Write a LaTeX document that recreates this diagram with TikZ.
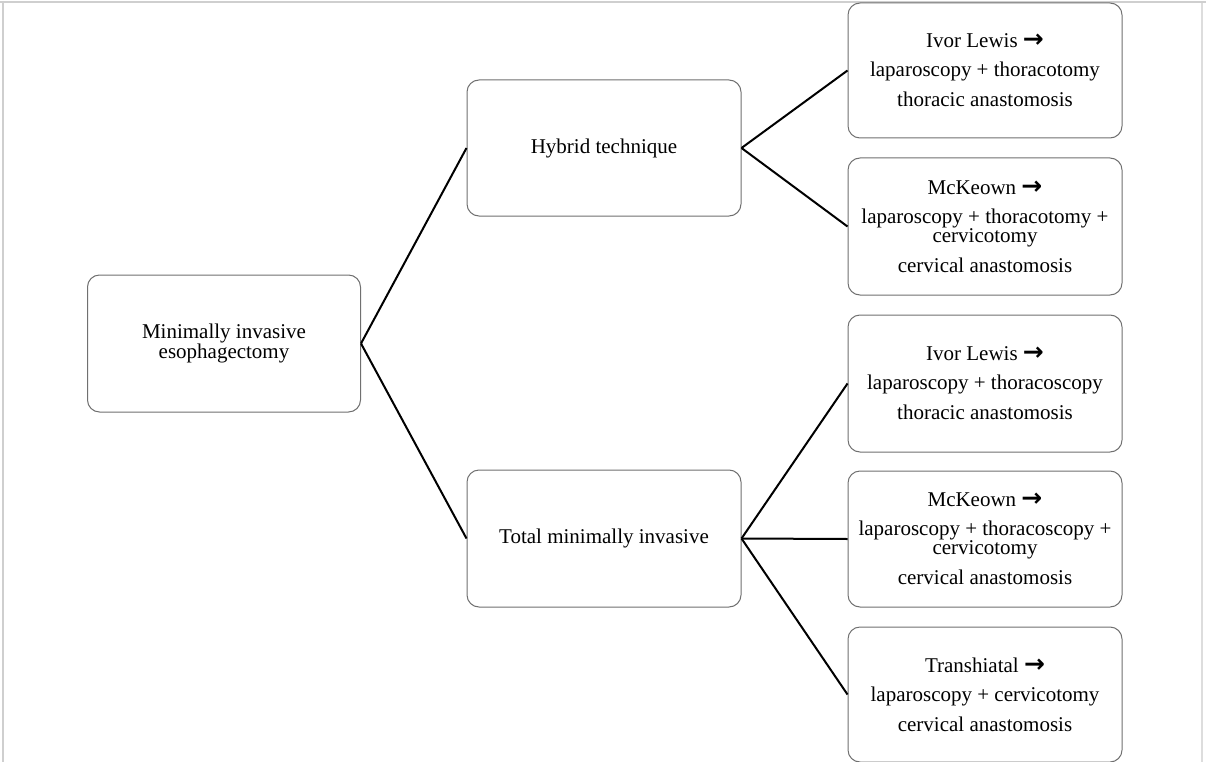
\documentclass[tikz,border=0pt]{standalone}
\usepackage{fontspec}
\setmainfont{Liberation Serif}
\newfontfamily\arrowfont{DejaVu Sans}
\definecolor{framegray}{HTML}{CFCFCF}
\definecolor{framegraylight}{HTML}{DDDDDD}
\definecolor{boxgray}{HTML}{707070}
\newcommand{\arr}{{\arrowfont\bfseries\fontsize{25}{19}\selectfont →}}
\begin{document}
\begin{tikzpicture}[x=1pt,y=-1pt,
  box/.style={draw=boxgray, line width=1pt, rounded corners=12pt, fill=white,
    minimum width=274pt, minimum height=137pt, inner sep=0pt, align=center,
    font=\fontsize{21}{19}\selectfont},
  conn/.style={draw=black, line width=2pt}]
\useasboundingbox (0,0) rectangle (1206,762);
% frame
\draw[framegray, line width=2pt] (0,2) -- (1206,2);
\draw[framegray, line width=2pt] (3,1) -- (3,762);
\draw[framegraylight, line width=1.5pt] (1202,3) -- (1202,762);
% nodes
\node[box, minimum width=273pt] (root) at (224,343.5) {Minimally invasive\\esophagectomy};
\node[box, minimum height=136pt] (hyb) at (604,148) {Hybrid technique};
\node[box] (tot) at (604,538.5) {Total minimally invasive};
\node[box, minimum height=135pt] (b1) at (985,70.5) {Ivor Lewis \arr\\[10pt]laparoscopy + thoracotomy\\[10pt]thoracic anastomosis};
\node[box] (b2) at (985,226.5) {McKeown \arr\\[10pt]laparoscopy + thoracotomy +\\cervicotomy\\[10pt]cervical anastomosis};
\node[box] (b3) at (985,383.5) {Ivor Lewis \arr\\[10pt]laparoscopy + thoracoscopy\\[10pt]thoracic anastomosis};
\node[box, minimum height=136pt] (b4) at (985,539) {McKeown \arr\\[10pt]laparoscopy + thoracoscopy +\\cervicotomy\\[10pt]cervical anastomosis};
\node[box, minimum height=135pt] (b5) at (985,694.5) {Transhiatal \arr\\[10pt]laparoscopy + cervicotomy\\[10pt]cervical anastomosis};
% connectors
\draw[conn] (root.east) -- (hyb.west);
\draw[conn] (root.east) -- (tot.west);
\draw[conn] (hyb.east) -- (b1.west);
\draw[conn] (hyb.east) -- (b2.west);
\draw[conn] (tot.east) -- (b3.west);
\draw[conn] (tot.east) -- (b4.west);
\draw[conn] (tot.east) -- (b5.west);
\end{tikzpicture}
\end{document}
